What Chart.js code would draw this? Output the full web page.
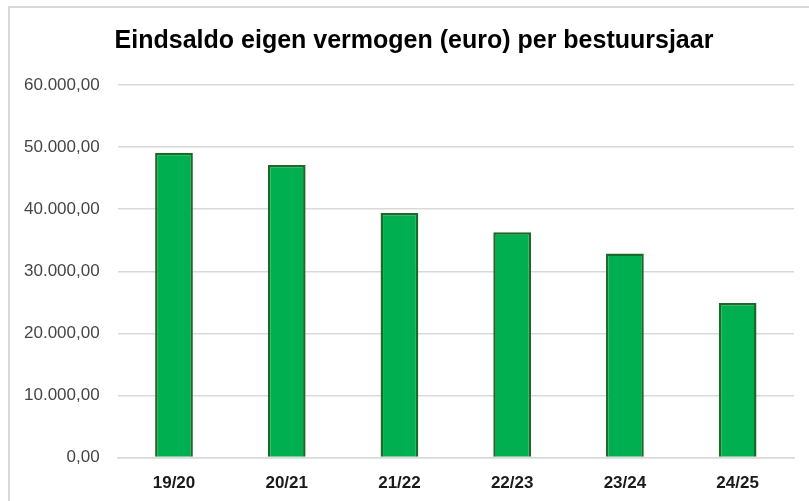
<!DOCTYPE html>
<html>
<head>
<meta charset="utf-8">
<script src="https://cdn.jsdelivr.net/npm/chart.js@4"></script>
<style>
  html, body { margin: 0; padding: 0; background: #fff; overflow: hidden; }
  #frame {
    position: absolute; left: 8px; top: 6px;
    width: 821px; height: 502px;
    border-top: 2px solid #d9d9d9; border-left: 2px solid #d9d9d9;
  }
  #frame canvas { display: block; margin-left: -4px; }
</style>
</head>
<body>
<div id="frame"><canvas id="saldoChart" width="821" height="502"></canvas></div>
<script>
// ============================
// DATA
// ============================
const chartTitle = "Eindsaldo eigen vermogen (euro) per bestuursjaar";
const years = ["19/20", "20/21", "21/22", "22/23", "23/24", "24/25"];
const saldo = [49100, 47100, 39400, 36300, 32850, 24900];
const yTicks = [0, 10000, 20000, 30000, 40000, 50000, 60000];

// ============================
// HELPER: euro formatter (nl)
// ============================
function formatEuro(num) {
  return new Intl.NumberFormat("nl-NL", {
    minimumFractionDigits: 2,
    maximumFractionDigits: 2,
  }).format(num);
}

// title drawn by hand so it can sit off-centre like the original
const titlePlugin = {
  id: "excelTitle",
  afterDraw(chart) {
    const ctx = chart.ctx;
    ctx.save();
    ctx.font = "bold 25px 'Liberation Sans', Arial, sans-serif";
    ctx.fillStyle = "#000";
    ctx.textAlign = "center";
    ctx.textBaseline = "alphabetic";
    ctx.fillText(chartTitle, 408, 40);
    ctx.restore();
  },
};

const canvas = document.getElementById("saldoChart");
new Chart(canvas, {
  type: "bar",
  data: {
    labels: years,
    datasets: [
      {
        data: saldo,
        backgroundColor: "#00b050",
        borderColor: "#1a6b28",
        borderWidth: 2.5,
        categoryPercentage: 1,
        barPercentage: 0.335,
      },
    ],
  },
  options: {
    responsive: false,
    animation: false,
    layout: { padding: { left: 0, right: 33, top: 77, bottom: 0 } },
    plugins: {
      legend: { display: false },
      tooltip: { enabled: false },
      title: { display: false },
    },
    scales: {
      y: {
        min: 0,
        max: 60000,
        afterBuildTicks: (axis) => {
          axis.ticks = yTicks.map((v) => ({ value: v }));
        },
        ticks: {
          padding: 18,
          color: "#454545",
          font: { family: "'Liberation Sans', Arial, sans-serif", size: 17 },
          callback: (v) => formatEuro(v),
        },
        grid: { color: "#d9d9d9", lineWidth: 1.5, drawTicks: false },
        border: { display: false },
      },
      x: {
        ticks: {
          padding: 16,
          color: "#1a1a1a",
          font: { family: "'Liberation Sans', Arial, sans-serif", size: 17, weight: "bold" },
        },
        grid: { display: false, drawTicks: false },
        border: { display: true, color: "#d9d9d9", width: 1.5 },
      },
    },
  },
  plugins: [titlePlugin],
});
</script>
</body>
</html>
